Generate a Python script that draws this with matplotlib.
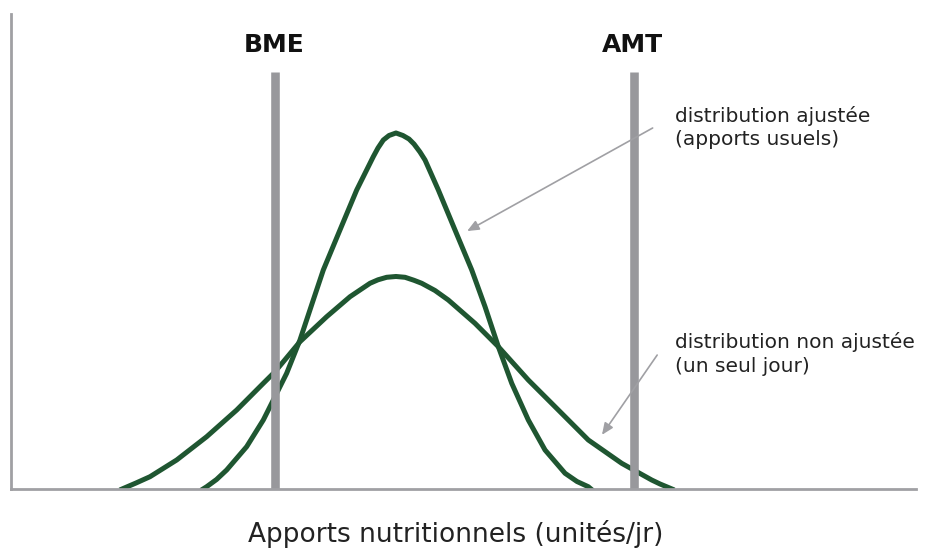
import matplotlib
matplotlib.use("Agg")
from matplotlib import pyplot as plt

# apports (unités arbitraires 0-100) et densité (0-100)
x_ajustee = [21.22, 21.62, 22.71, 23.83, 26.04, 27.88, 29.17, 30.46, 31.93, 33.40, 34.51,
             36.35, 38.20, 40.03, 40.55, 41.14, 41.77, 42.54, 43.31, 43.98, 44.53, 45.19,
             45.75, 47.22, 49.06, 50.91, 52.38, 53.85, 55.33, 57.16, 59.01, 61.22, 62.54,
             63.79, 64.09]
y_ajustee = [0.0, 0.48, 2.0, 4.0, 8.91, 14.53, 19.43, 24.36, 31.37, 39.79, 46.11,
             54.53, 62.95, 69.96, 71.79, 73.47, 74.42, 74.95, 74.42, 73.68, 72.63, 70.95,
             69.26, 62.95, 54.53, 46.11, 38.38, 29.96, 22.25, 14.53, 8.21, 3.31, 1.58,
             0.48, 0.0]

x_non_ajustee = [12.27, 13.81, 15.36, 18.31, 21.62, 24.94, 27.88, 29.17, 31.93, 34.88,
                 37.46, 39.67, 40.55, 41.51, 42.54, 43.54, 44.53, 45.38, 46.85, 48.32,
                 51.27, 53.85, 57.16, 60.48, 63.79, 67.48, 70.80, 71.72, 73.04]
y_non_ajustee = [0.0, 1.26, 2.59, 6.11, 11.01, 16.63, 22.25, 24.69, 31.01, 36.27,
                 40.48, 43.31, 44.04, 44.57, 44.74, 44.57, 43.94, 43.31, 41.79, 39.79,
                 34.88, 29.96, 22.95, 16.63, 10.32, 5.41, 1.89, 1.05, 0.0]

seuils = [29.2, 68.8]
noms_seuils = ["BME", "AMT"]
haut_seuil = 87.8

vert = "#1f5631"
gris = "#98989c"
texte = "#222222"

fig = plt.figure(figsize=(9.26, 5.5), dpi=100)
ax = fig.add_axes([11 / 926, 61 / 550, 905 / 926, 475 / 550])
ax.set_xlim(0, 100)
ax.set_ylim(0, 100)

ax.plot(x_ajustee, y_ajustee, color=vert, lw=3.6, solid_joinstyle="round", zorder=2)
ax.plot(x_non_ajustee, y_non_ajustee, color=vert, lw=3.6, solid_joinstyle="round", zorder=2)

ax.vlines(seuils, 0, haut_seuil, color=gris, lw=6.2, zorder=3)
for s, nom in zip(seuils, noms_seuils):
    ax.text(s - 0.1, 92.0, nom, ha="center", va="baseline", fontsize=18,
            fontweight="bold", color="#111111")

# annotations
fleche = dict(arrowstyle="-|>,head_length=0.7,head_width=0.3", color="#a0a0a4",
              lw=1.2, shrinkA=0, shrinkB=0)
ax.annotate("", xy=(50.4, 54.3), xytext=(70.9, 76.0), arrowprops=fleche, zorder=4)
ax.annotate("", xy=(65.3, 11.4), xytext=(71.4, 28.2), arrowprops=fleche, zorder=4)

ax.text(73.4, 77.3, "distribution ajustée", fontsize=14.5, color=texte, va="baseline")
ax.text(73.4, 72.4, "(apports usuels)", fontsize=14.5, color=texte, va="baseline")
ax.text(73.4, 29.7, "distribution non ajustée", fontsize=14.5, color=texte, va="baseline")
ax.text(73.4, 24.6, "(un seul jour)", fontsize=14.5, color=texte, va="baseline")

for side in ["top", "right"]:
    ax.spines[side].set_visible(False)
for side in ["left", "bottom"]:
    ax.spines[side].set_color("#a0a0a4")
    ax.spines[side].set_linewidth(2)
    ax.spines[side].set_zorder(5)
ax.set_xticks([])
ax.set_yticks([])

fig.text(455.5 / 926, 8 / 550, "Apports nutritionnels (unités/jr)", ha="center",
         va="baseline", fontsize=19, color=texte)

fig.savefig("out.png", dpi=100)
